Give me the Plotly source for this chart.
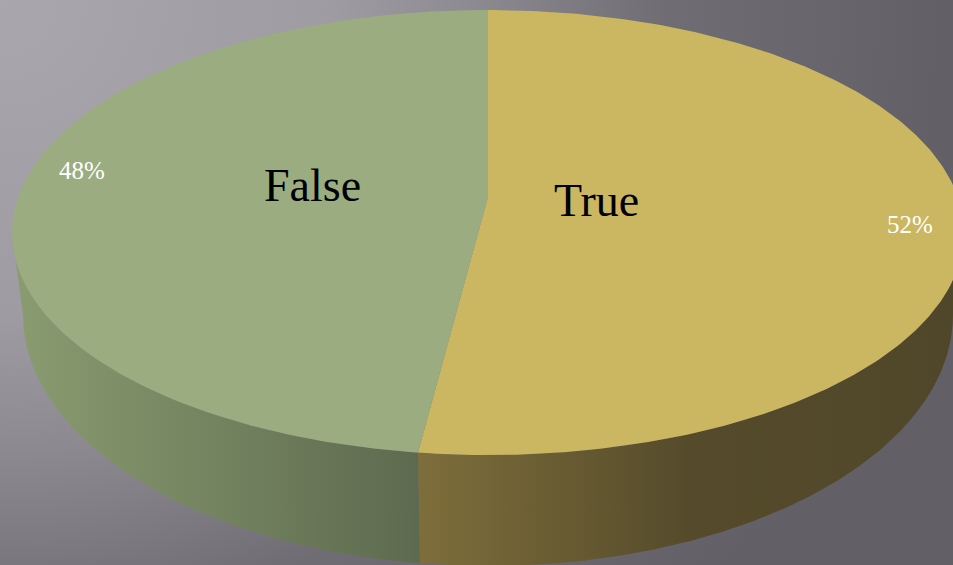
import numpy as np
import plotly.graph_objects as go

# ---- data ----
categories = ["True", "False"]
values = [52, 48]
top_colors = ["#cbb762", "#9bad80"]
side_colorscales = [
    [[0, "#7e6e3b"], [0.5, "#554b2b"], [1, "#50472a"]],
    [[0, "#8a9c70"], [1, "#5d6a4f"]],
]
name_radius = [0.23, 0.38]      # category name position (fraction of radius)
name_shift = [0.0, 4.5]         # degrees
pct_radius = [0.89, 0.89]
pct_shift = [4.5, 4.5]

# ---- geometry (pixel-like units) ----
W, H = 953, 565
TOP = dict(cx=488, cy=232.5, rx=476, ry=222.5)
BOT = dict(cx=488, cy=315.0, rx=465, ry=251.0)
K = 0.16        # perspective strength
C = np.sqrt(1 - K ** 2)


def project(theta_deg, r=1.0, e=TOP):
    t = np.radians(theta_deg)
    u = r * np.sin(t)
    v = -r * np.cos(t)
    den = 1 - K * v
    return e["cx"] + e["rx"] * C * u / den, e["cy"] + e["ry"] * (v - K) / den


total = float(sum(values))
angles = np.concatenate([[0.0], np.cumsum(values) / total * 360.0])
vis_lo = np.degrees(np.arccos(-K))
vis_hi = 360.0 - vis_lo

fig = go.Figure()

# background
bx = [-W, W, W, -W, -W]
by = [-900, -900, 900, 900, -900]
fig.add_trace(go.Scatter(
    x=bx, y=by, mode="lines", fill="toself", line=dict(width=0),
    fillgradient=dict(type="radial", colorscale=[
        [0, "#aaa6ae"], [0.35, "#9f9ba3"], [0.5, "#8c8990"],
        [0.7, "#6f6d73"], [1, "#626066"]]),
    hoverinfo="skip", showlegend=False))

# side walls
for i, cat in enumerate(categories):
    a0, a1 = angles[i], angles[i + 1]
    lo, hi = max(a0, vis_lo), min(a1, vis_hi)
    if hi <= lo:
        continue
    th = np.linspace(lo, hi, 200)
    xt, yt = project(th)
    xb, yb = project(th, e=BOT)
    xs = np.concatenate([xt, xb[::-1], [xt[0]]])
    ys = np.concatenate([yt, yb[::-1], [yt[0]]])
    fig.add_trace(go.Scatter(
        x=xs, y=ys, mode="lines", fill="toself", line=dict(width=0),
        fillgradient=dict(type="horizontal", colorscale=side_colorscales[i]),
        hoverinfo="skip", showlegend=False))

# top faces
cx0, cy0 = project(0.0, 0.0)
for i, cat in enumerate(categories):
    a0, a1 = angles[i], angles[i + 1]
    th = np.linspace(a0, a1, 300)
    x, y = project(th)
    xs = np.concatenate([[cx0], x, [cx0]])
    ys = np.concatenate([[cy0], y, [cy0]])
    fig.add_trace(go.Scatter(
        x=xs, y=ys, mode="lines", fill="toself", line=dict(width=0),
        fillcolor=top_colors[i], hoverinfo="skip", showlegend=False))

# labels
for i, cat in enumerate(categories):
    mid = (angles[i] + angles[i + 1]) / 2
    nx, ny = project(mid + name_shift[i], name_radius[i])
    px, py = project(mid + pct_shift[i], pct_radius[i])
    pct = round(values[i] / total * 100)
    fig.add_annotation(x=float(nx), y=float(ny), text=cat, showarrow=False,
                       font=dict(family="Liberation Serif", size=46, color="#000000"))
    fig.add_annotation(x=float(px), y=float(py), text=f"{pct}%", showarrow=False,
                       font=dict(family="Liberation Serif", size=25, color="#ffffff"))

fig.update_xaxes(range=[0, W], visible=False, fixedrange=True)
fig.update_yaxes(range=[H, 0], visible=False, fixedrange=True)
fig.update_layout(width=W, height=H, margin=dict(l=0, r=0, t=0, b=0),
                  paper_bgcolor="#7a7880", plot_bgcolor="#7a7880",
                  showlegend=False)

fig.write_html("out.html", config={"displayModeBar": False},
               post_script="document.body.style.margin='0';")
